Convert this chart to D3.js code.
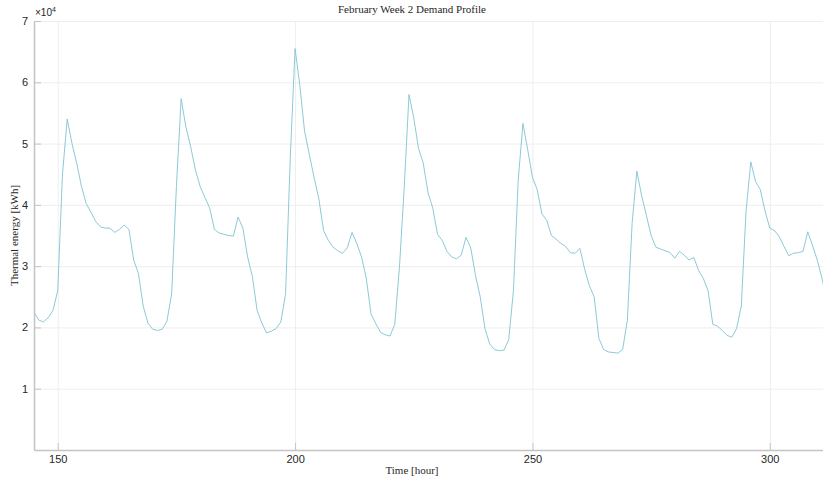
<!DOCTYPE html>
<html>
<head>
<title>February Week 2 Demand Profile</title>
<style>
  body { margin: 0; background: #ffffff; }
  .tick text { font-family: "Liberation Sans", Arial, sans-serif; font-size: 11px; fill: #262626; }
  .latex { font-family: "Liberation Serif", "DejaVu Serif", serif; fill: #262626; }
</style>
<script src="https://cdn.jsdelivr.net/npm/d3@7"></script>
</head>
<body>
<div id="chart"></div>
<script>
// hours of the second February week
var hourStart = 145;
var hourEnd = 312;

// thermal demand per hour, in units of 1e4 kWh
var demand = [
  2.25, 2.12, 2.09, 2.16, 2.28, 2.60, 4.50, 5.40, 5.00, 4.68, 4.30, 4.02,
  3.88, 3.73, 3.64, 3.62, 3.62, 3.55, 3.60, 3.67, 3.60, 3.10, 2.88, 2.35,
  2.07, 1.97, 1.95, 1.97, 2.10, 2.55, 4.30, 5.73, 5.27, 4.95, 4.57, 4.30,
  4.12, 3.95, 3.60, 3.54, 3.52, 3.50, 3.49, 3.80, 3.62, 3.15, 2.83, 2.28,
  2.07, 1.91, 1.94, 1.98, 2.09, 2.55, 4.80, 6.55, 5.95, 5.20, 4.82, 4.45,
  4.10, 3.58, 3.42, 3.31, 3.25, 3.21, 3.30, 3.55, 3.37, 3.15, 2.80, 2.22,
  2.06, 1.92, 1.88, 1.86, 2.05, 3.00, 4.30, 5.80, 5.42, 4.92, 4.68, 4.20,
  3.95, 3.52, 3.42, 3.24, 3.15, 3.12, 3.18, 3.47, 3.30, 2.85, 2.50, 1.98,
  1.73, 1.64, 1.62, 1.63, 1.80, 2.60, 4.40, 5.33, 4.90, 4.45, 4.25, 3.85,
  3.75, 3.50, 3.44, 3.37, 3.32, 3.22, 3.21, 3.29, 2.95, 2.68, 2.50, 1.82,
  1.64, 1.60, 1.59, 1.58, 1.64, 2.12, 3.70, 4.55, 4.15, 3.83, 3.50, 3.31,
  3.28, 3.25, 3.22, 3.13, 3.24, 3.18, 3.10, 3.14, 2.93, 2.80, 2.60, 2.05,
  2.02, 1.95, 1.87, 1.84, 1.98, 2.35, 3.90, 4.70, 4.38, 4.25, 3.90, 3.62,
  3.58, 3.48, 3.32, 3.17, 3.21, 3.22, 3.24, 3.56, 3.34, 3.10, 2.80, 2.45
];

var xTicks = [150, 200, 250, 300];
var yTicks = [1, 2, 3, 4, 5, 6, 7];

var W = 823, H = 484;
var padL = 34, padT = 21, padB = 450;
var plotRight = padL + (hourEnd - hourStart) * 4.747;

var svg = d3.select('#chart').append('svg')
  .attr('width', W).attr('height', H);

var x = d3.scaleLinear().domain([hourStart, hourEnd]).range([padL, plotRight]);
var y = d3.scaleLinear().domain([0, 7]).range([padB, padT]);

// grid
svg.append('g')
  .attr('transform', 'translate(0,' + padB + ')')
  .call(d3.axisBottom(x).tickValues(xTicks).tickSize(-(padB - padT)).tickFormat(''))
  .call(function(g){ g.select('.domain').remove(); })
  .selectAll('line').attr('stroke', '#eeeeee');

svg.append('g')
  .attr('transform', 'translate(' + padL + ',0)')
  .call(d3.axisLeft(y).tickValues(yTicks).tickSize(-(plotRight - padL)).tickFormat(''))
  .call(function(g){ g.select('.domain').remove(); })
  .selectAll('line').attr('stroke', '#eeeeee');

// the line
var pts = demand.map(function(v, i){ return [hourStart + i, v]; });
var line = d3.line()
  .x(function(d){ return x(d[0]); })
  .y(function(d){ return y(d[1]); });

svg.append('path')
  .datum(pts)
  .attr('d', line)
  .attr('fill', 'none')
  .attr('stroke', '#7fc3d2')
  .attr('stroke-width', 0.9);

// axes, MATLAB style ticks pointing inwards
var xAxis = svg.append('g')
  .attr('transform', 'translate(0,' + padB + ')')
  .call(d3.axisBottom(x).tickValues(xTicks).tickSize(-7).tickPadding(5).tickSizeOuter(0));
xAxis.select('.domain').attr('stroke', '#c4c4c4').attr('stroke-width', 1.5);
xAxis.selectAll('.tick line').attr('stroke', '#c4c4c4');

var yAxis = svg.append('g')
  .attr('transform', 'translate(' + padL + ',0)')
  .call(d3.axisLeft(y).tickValues(yTicks).tickSize(-7).tickPadding(6).tickSizeOuter(0)
    .tickFormat(d3.format('d')));
yAxis.select('.domain').attr('stroke', '#c4c4c4').attr('stroke-width', 1.5);
yAxis.selectAll('.tick line').attr('stroke', '#c4c4c4');

// exponent label
var expo = svg.append('text')
  .attr('x', padL + 1).attr('y', 16)
  .attr('font-family', '"Liberation Sans", Arial, sans-serif')
  .attr('font-size', 10).attr('fill', '#262626');
expo.append('tspan').text('\u00d710');
expo.append('tspan').attr('dy', -4).attr('font-size', 7).text('4');

// titles
svg.append('text').attr('class', 'latex')
  .attr('x', 412).attr('y', 13)
  .attr('text-anchor', 'middle').attr('font-size', 11)
  .text('February Week 2 Demand Profile');

svg.append('text').attr('class', 'latex')
  .attr('x', 412).attr('y', 474)
  .attr('text-anchor', 'middle').attr('font-size', 11)
  .text('Time [hour]');

svg.append('text').attr('class', 'latex')
  .attr('transform', 'translate(18,' + ((padT + padB) / 2) + ') rotate(-90)')
  .attr('text-anchor', 'middle').attr('font-size', 11)
  .text('Thermal energy [kWh]');
</script>
</body>
</html>
